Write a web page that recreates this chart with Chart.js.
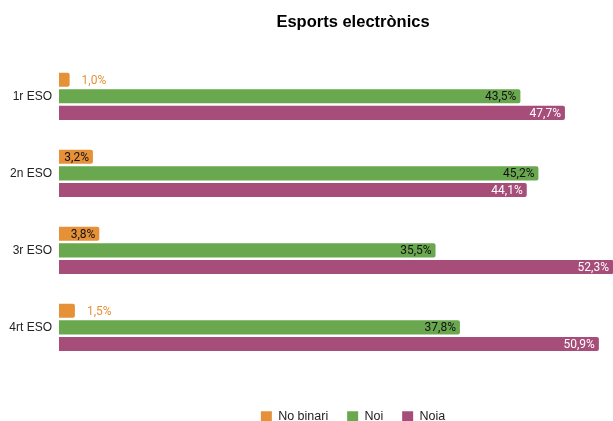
<!DOCTYPE html>
<html>
<head>
<meta charset="utf-8">
<script src="https://cdn.jsdelivr.net/npm/chart.js@4.4.1/dist/chart.umd.min.js"></script>
<style>
  html, body { margin: 0; padding: 0; background: #fff; overflow: hidden; }
  #wrap { width: 613px; height: 421px; overflow: hidden; }
  #box { width: 706px; height: 421px; }
</style>
</head>
<body>
<div id="wrap"><div id="box"><canvas id="chart"></canvas></div></div>
<script>
const courses = ['1r ESO', '2n ESO', '3r ESO', '4rt ESO'];
const noBinari = [1.0, 3.2, 3.8, 1.5];
const noi = [43.5, 45.2, 35.5, 37.8];
const noia = [47.7, 44.1, 52.3, 50.9];

const orange = '#e69138';
const green = '#6aa84f';
const purple = '#a64d79';

// value labels: inside the bar end when it fits, otherwise just after it
const barLabels = {
  id: 'barLabels',
  afterDatasetsDraw(chart) {
    const ctx = chart.ctx;
    ctx.save();
    ctx.font = '12px Roboto';
    ctx.textBaseline = 'middle';
    chart.data.datasets.forEach((ds, i) => {
      const meta = chart.getDatasetMeta(i);
      meta.data.forEach((bar, j) => {
        const text = ds.data[j].toFixed(1).replace('.', ',') + '%';
        const w = ctx.measureText(text).width;
        if (bar.x - bar.base >= w + 9) {
          ctx.textAlign = 'right';
          ctx.fillStyle = ds.labelColor;
          ctx.fillText(text, Math.min(bar.x, 613) - 4, bar.y + 1);
        } else {
          ctx.textAlign = 'left';
          ctx.fillStyle = ds.backgroundColor;
          ctx.fillText(text, bar.x + 12, bar.y + 1);
        }
      });
    });
    ctx.restore();
  }
};

new Chart(document.getElementById('chart'), {
  type: 'bar',
  data: {
    labels: courses,
    datasets: [
      { label: 'No binari', data: noBinari, backgroundColor: orange, labelColor: '#111' },
      { label: 'Noi', data: noi, backgroundColor: green, labelColor: '#111' },
      { label: 'Noia', data: noia, backgroundColor: purple, labelColor: '#fff' }
    ]
  },
  options: {
    indexAxis: 'y',
    responsive: true,
    maintainAspectRatio: false,
    animation: false,
    layout: { padding: { left: 0, right: 0, top: 0, bottom: -12 } },
    datasets: {
      bar: { categoryPercentage: 0.647, barPercentage: 0.85, borderRadius: 2 }
    },
    scales: {
      x: {
        min: 0,
        max: 61,
        grid: { display: false, drawTicks: false },
        border: { display: false },
        ticks: { display: false },
        afterFit: s => { s.height = 25.6; }
      },
      y: {
        grid: { display: false, drawTicks: false },
        border: { display: false },
        ticks: { color: '#222', padding: 7, font: { family: 'Liberation Sans', size: 12 } },
        afterFit: s => { s.width = 59; }
      }
    },
    plugins: {
      title: {
        display: true,
        text: 'Esports electrònics',
        color: '#000',
        font: { family: 'Liberation Sans', size: 16.5, weight: 'bold' },
        padding: { top: 13, bottom: 25 }
      },
      legend: {
        position: 'bottom',
        labels: {
          color: '#222',
          boxWidth: 11,
          boxHeight: 11,
          padding: 19,
          font: { family: 'Liberation Sans', size: 12.5 }
        }
      },
      tooltip: { enabled: false }
    }
  },
  plugins: [barLabels]
});
</script>
</body>
</html>
